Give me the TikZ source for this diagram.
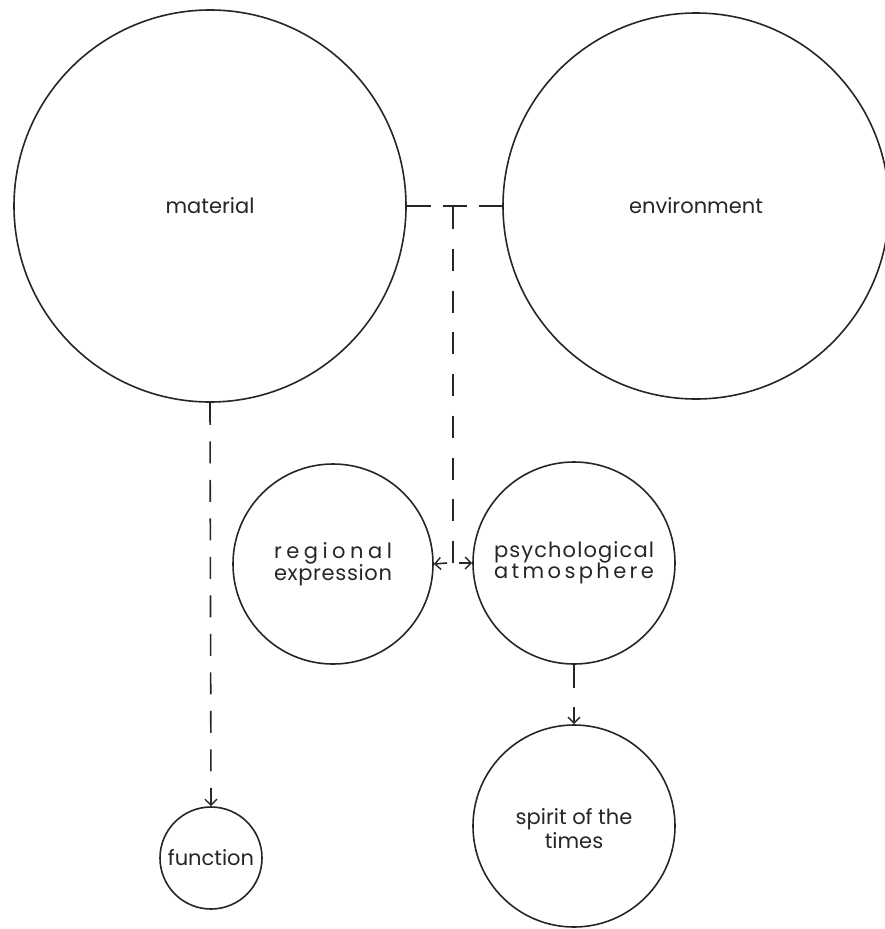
\documentclass[tikz,border=0pt]{standalone}
\usepackage{fontspec}
\setmainfont{Poppins}
\usetikzlibrary{arrows.meta}

% spread the letters of a word evenly over a given width
\newcommand\spreadword[2]{\makebox[#1][s]{#2}}

\begin{document}
\begin{tikzpicture}[x=1pt,y=-1pt,
  ink/.style={draw=black!85,line width=1.6pt},
  bubble/.style={ink,circle,inner sep=0pt,text=black!85,font=\fontsize{21}{19}\selectfont,align=center},
  tip/.style={-{Straight Barb[length=6pt,width=12pt,line width=1.4pt]}}
]
\useasboundingbox (0,0) rectangle (885,929);

% concept circles
\node[bubble,minimum size=392pt] (mat) at (210,206) {material};
\node[bubble,minimum size=386pt] (env) at (696,206) {environment};
\node[bubble,minimum size=200pt] (reg) at (333,564)
  {\spreadword{118pt}{r\hfil e\hfil g\hfil i\hfil o\hfil n\hfil a\hfil l}\\[-1pt]
   \spreadword{118pt}{e\hfil x\hfil p\hfil r\hfil e\hfil s\hfil s\hfil i\hfil o\hfil n}};
\node[bubble,minimum size=202pt] (psy) at (574,563)
  {\spreadword{160pt}{p\hfil s\hfil y\hfil c\hfil h\hfil o\hfil l\hfil o\hfil g\hfil i\hfil c\hfil a\hfil l}\\[-1pt]
   \spreadword{160pt}{a\hfil t\hfil m\hfil o\hfil s\hfil p\hfil h\hfil e\hfil r\hfil e}};
\node[bubble,minimum size=102pt] (fun) at (211,858) {function};
\node[bubble,minimum size=202pt,text depth=0pt] (spi) at (574,826) {\raisebox{-5pt}{\shortstack{spirit of the\\times}}};

% material -- environment link with a branch down the middle
\draw[ink,dash pattern=on 24pt off 12pt] (mat.east) -- (env.west);
\coordinate (tee) at (453,207);
\coordinate (fork) at (453,563);
\draw[ink,dash pattern=on 22pt off 19.75pt] (tee) -- (fork);
\draw[ink,tip] ([xshift=-6pt]fork) -- (reg.east);
\draw[ink,tip] ([xshift=6pt]fork) -- (psy.west);

% downward links
\draw[ink,dash pattern=on 22pt off 16.5pt,tip] (mat.south) -- (fun.north);
\draw[ink,dash pattern=on 23pt off 19pt,tip] (psy.south) -- (spi.north);
\end{tikzpicture}
\end{document}
